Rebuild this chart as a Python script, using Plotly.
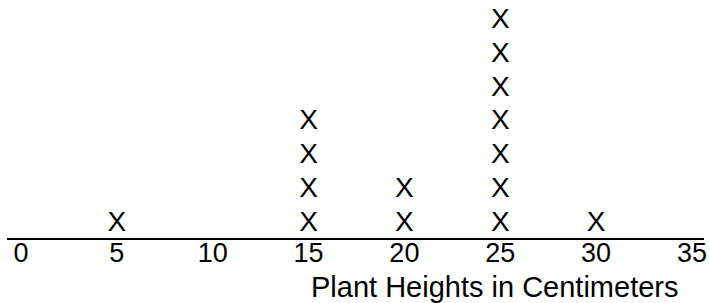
import plotly.graph_objects as go

heights = [5, 15, 20, 25, 30]
counts = [1, 4, 2, 7, 1]
tick_values = [0, 5, 10, 15, 20, 25, 30, 35]
tick_labels = ["0", "5", "10", "15", "20", "25", "30", "35"]
axis_title = "Plant Heights in Centimeters"

xs, ys = [], []
for h, c in zip(heights, counts):
    for k in range(1, c + 1):
        xs.append(h)
        ys.append(k)

FONT = "Liberation Sans, Arial, sans-serif"

fig = go.Figure()
fig.add_trace(go.Scatter(
    x=xs, y=ys, mode="text", text=["X"] * len(xs),
    textposition="middle center",
    textfont=dict(family=FONT, size=28, color="black"),
    hoverinfo="skip", showlegend=False, cliponaxis=False,
))

fig.update_xaxes(
    range=[-0.73, 35.63], tickvals=tick_values, ticktext=tick_labels,
    showline=True, linecolor="black", linewidth=2, showgrid=False,
    zeroline=False, ticks="", automargin=False, ticklabelstandoff=-10,
    tickfont=dict(family=FONT, size=27, color="black"),
)
fig.update_yaxes(range=[0.575, 7.63], visible=False, showgrid=False,
                 zeroline=False, automargin=False)

fig.add_annotation(
    x=24.75, xref="x", y=0, yref="paper", yanchor="top", yshift=-31,
    text=axis_title, showarrow=False,
    font=dict(family=FONT, size=29, color="black"),
)

fig.update_layout(
    width=709, height=303,
    margin=dict(l=7, r=5, t=0, b=65, autoexpand=False),
    plot_bgcolor="white", paper_bgcolor="white",
)

fig.write_html(
    "out.html",
    config={"displayModeBar": False, "staticPlot": True},
    post_script="document.body.style.margin='0';document.body.style.overflow='hidden';",
)
